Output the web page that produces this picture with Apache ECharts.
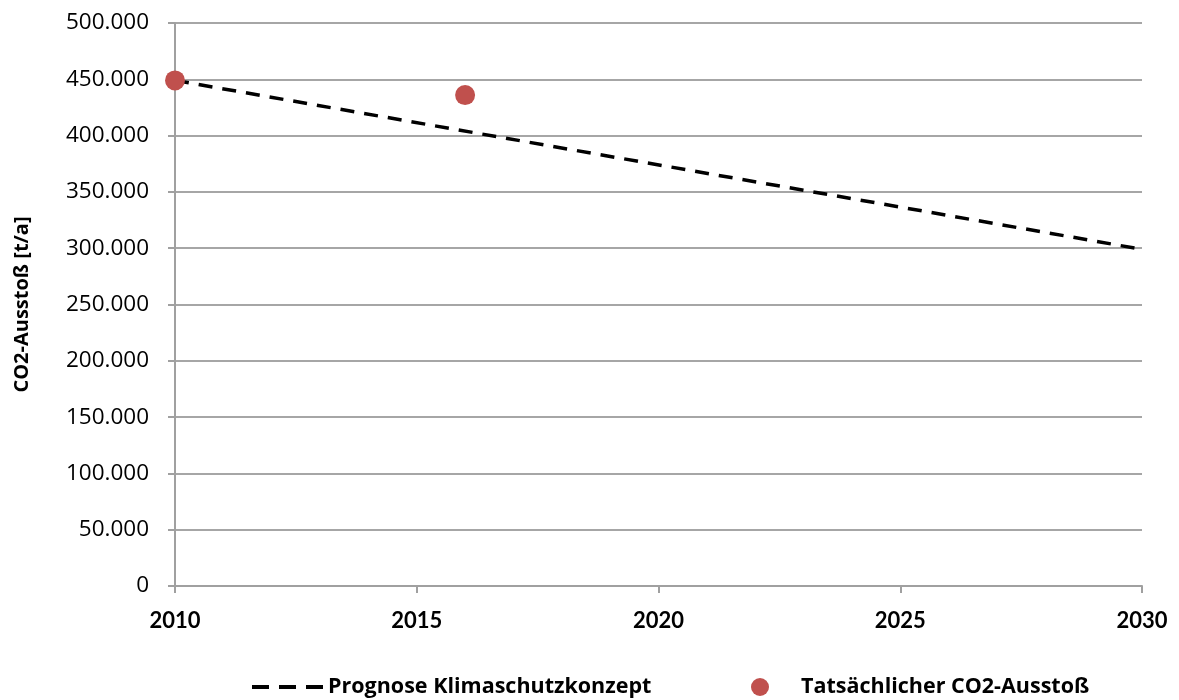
<!DOCTYPE html>
<html>
<head>
<meta charset="utf-8">
<script src="https://cdn.jsdelivr.net/npm/echarts@6/dist/echarts.min.js"></script>
<style>
  html, body { margin: 0; padding: 0; background: #ffffff; }
  #chart { width: 1179px; height: 700px; }
</style>
</head>
<body>
<div id="chart"></div>
<script>
// Projected CO2 emissions (climate protection concept) vs. measured values
const forecastYears = [2010, 2030];
const forecastValues = [449000, 299000];
const actualYears = [2010, 2016];
const actualValues = [449000, 436000];
const seriesNames = ['Prognose Klimaschutzkonzept', 'Tatsächlicher CO2-Ausstoß'];
const yAxisTitle = 'CO2-Ausstoß [t/a]';

const fmt = v => v === 0 ? '0' : v.toLocaleString('de-DE');
const legendText = { color: '#000', fontFamily: 'Open Sans', fontWeight: 'bold', fontSize: 21.5 };
// three short dashes used as the legend symbol of the forecast line
const dashIcon = 'path://M0,0h17v4h-17z M27,0h17v4h-17z M54,0h17v4h-17z';

const chart = echarts.init(document.getElementById('chart'));
chart.setOption({
  animation: false,
  grid: { left: 175, right: 37, top: 23, bottom: 114, outerBoundsMode: 'none', containLabel: false },
  xAxis: {
    type: 'value', min: 2010, max: 2030, interval: 5,
    axisLine: { lineStyle: { color: '#a0a0a0', width: 2 } },
    axisTick: { show: true, length: 7, lineStyle: { color: '#a0a0a0', width: 2 } },
    axisLabel: { color: '#000', fontFamily: 'Lato', fontWeight: 'bold', fontSize: 22, margin: 24, formatter: v => String(v) },
    splitLine: { show: false }
  },
  yAxis: {
    type: 'value', min: 0, max: 500000, interval: 50000,
    name: yAxisTitle, nameLocation: 'middle', nameGap: 143, nameRotate: 90,
    nameTextStyle: { color: '#000', fontFamily: 'Open Sans', fontWeight: 'bold', fontSize: 20 },
    axisLine: { show: true, lineStyle: { color: '#a0a0a0', width: 2 } },
    axisTick: { show: true, length: 7, lineStyle: { color: '#a0a0a0', width: 2 } },
    axisLabel: { color: '#000', fontFamily: 'Open Sans', fontSize: 22.5, margin: 26, formatter: fmt },
    splitLine: { lineStyle: { color: '#a6a6a6', width: 2 } }
  },
  legend: [
    {
      left: 247, top: 671, itemWidth: 71, itemHeight: 4, itemGap: 10,
      textStyle: legendText,
      data: [{ name: seriesNames[0], icon: dashIcon, itemStyle: { color: '#000' } }]
    },
    {
      left: 746, top: 671, itemWidth: 18, itemHeight: 18, itemGap: 10,
      textStyle: Object.assign({}, legendText, { padding: [0, 0, 0, 27] }),
      data: [{ name: seriesNames[1], icon: 'circle' }]
    }
  ],
  series: [
    {
      name: seriesNames[0], type: 'line', symbol: 'none',
      data: forecastYears.map((y, i) => [y, forecastValues[i]]),
      lineStyle: { color: '#000', width: 3.5, type: [14, 10] },
      itemStyle: { color: '#000' },
      z: 3
    },
    {
      name: seriesNames[1], type: 'scatter', symbol: 'circle', symbolSize: 20,
      data: actualYears.map((y, i) => [y, actualValues[i]]),
      itemStyle: { color: '#c0504d', opacity: 1 },
      z: 4
    }
  ]
});
</script>
</body>
</html>
